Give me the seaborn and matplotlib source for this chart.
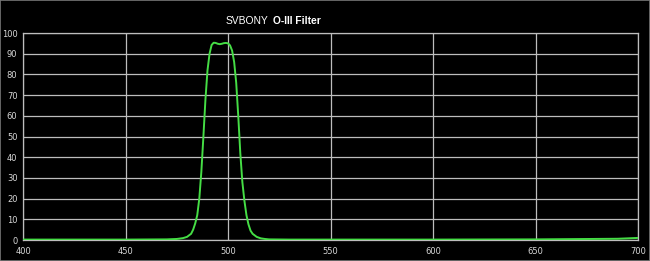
import matplotlib
matplotlib.use("Agg")
import matplotlib.pyplot as plt
import seaborn as sns
import pandas as pd
from matplotlib.patches import Rectangle

# Data
wavelength = [400, 450, 470, 475, 478, 480, 482, 483, 484, 485, 486, 487, 488, 489,
              490, 491, 492, 493, 494, 495, 496, 497, 498, 499, 500, 501, 502, 503,
              504, 505, 506, 507, 508, 509, 510, 511, 512, 514, 516, 518, 520, 530,
              550, 600, 650, 690, 700]
transmission = [0.2, 0.2, 0.3, 0.5, 0.9, 1.5, 3, 5, 8, 12, 20, 33, 50, 68,
                82, 90, 94.2, 95.3, 95.2, 94.8, 94.6, 94.8, 95.1, 95.2, 95.0, 94.0, 91.5, 86,
                76, 60, 42, 28, 19, 12, 7.5, 4.5, 3, 1.5, 0.8, 0.5, 0.3, 0.2,
                0.2, 0.2, 0.3, 0.6, 1.0]
x_ticks = [400, 450, 500, 550, 600, 650, 700]
y_ticks = [0, 10, 20, 30, 40, 50, 60, 70, 80, 90, 100]
title_plain = "SVBONY"
title_bold = "O-III Filter"

df = pd.DataFrame({"wavelength": wavelength, "transmission": transmission})

sns.set_theme(style="dark")
plt.rcParams['font.family'] = ['DejaVu Sans']

fig = plt.figure(figsize=(6.5, 2.61), dpi=100, facecolor="black")
ax = fig.add_axes([23/650, 21/261, 615/650, 207/261])
ax.set_facecolor("black")

sns.lineplot(data=df, x="wavelength", y="transmission", ax=ax,
             color="#45dd45", linewidth=1.4, zorder=3)

ax.set_xlim(400, 700)
ax.set_ylim(0, 100)
ax.set_xticks(x_ticks)
ax.set_yticks(y_ticks)
ax.set_xticklabels([str(v) for v in x_ticks])
ax.set_yticklabels([str(v) for v in y_ticks])
ax.grid(True, color="#bdbdbd", linewidth=0.9)
ax.set_axisbelow(True)
ax.set_xlabel("")
ax.set_ylabel("")
ax.tick_params(axis="both", length=0, colors="#d8d8d8", labelsize=6)
ax.tick_params(axis="x", pad=5)
ax.tick_params(axis="y", pad=4)
for s in ax.spines.values():
    s.set_visible(True)
    s.set_color("#bdbdbd")
    s.set_linewidth(0.9)

fig.text(268/650, 0.907, title_plain, color="white", fontsize=7.4, ha="right",
         va="baseline", family="Liberation Sans")
fig.text(273/650, 0.907, title_bold, color="white", fontsize=7.4, ha="left",
         va="baseline", fontweight="bold", family="Liberation Sans")

fig.patches.append(Rectangle((0, 0), 1, 1, transform=fig.transFigure,
                             fill=False, edgecolor="#777777", linewidth=1.2))

fig.savefig("out.png", dpi=100, facecolor="black")
